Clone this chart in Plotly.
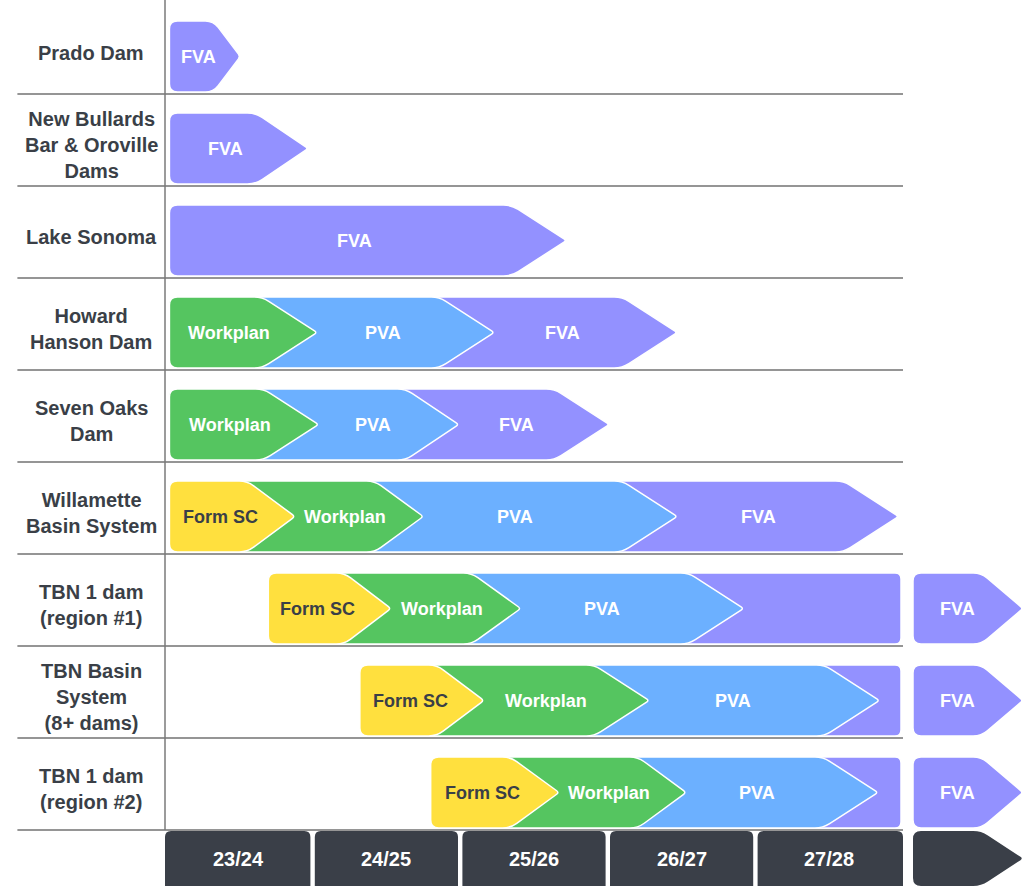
import math
import plotly.graph_objects as go

# ---------------- data ----------------
row_labels = [
    "Prado Dam",
    "New Bullards<br>Bar & Oroville<br>Dams",
    "Lake Sonoma",
    "Howard<br>Hanson Dam",
    "Seven Oaks<br>Dam",
    "Willamette<br>Basin System",
    "TBN 1 dam<br>(region #1)",
    "TBN Basin<br>System<br>(8+ dams)",
    "TBN 1 dam<br>(region #2)",
]
fiscal_years = ["23/24", "24/25", "25/26", "26/27", "27/28"]
phase_names = ["Form SC", "Workplan", "PVA", "FVA"]

LATER = "later"  # continues beyond 27/28

# values in years counted from the start of FY 23/24
row_start = [0.03, 0.03, 0.03, 0.03, 0.03, 0.03, 0.70, 1.32, 1.80]
form_sc_end = [None, None, None, None, None, 0.88, 1.53, 2.16, 2.67]
workplan_end = [None, None, None, 1.03, 1.04, 1.75, 2.41, 3.28, 3.53]
pva_end = [None, None, None, 2.23, 1.99, 3.47, 3.92, 4.84, 4.83]
fva_end = [0.51, 0.97, 2.72, 3.47, 3.01, 4.97, LATER, LATER, LATER]

# ---------------- style ----------------
phase_colors = {"Form SC": "#FFE03E", "Workplan": "#55C560", "PVA": "#6CB0FF", "FVA": "#9391FF"}
phase_text = {"Form SC": "#3A3F47", "Workplan": "white", "PVA": "white", "FVA": "white"}
DARK = "#3A3F48"
GRID = "#959595"
FONT = "Liberation Sans, Arial, sans-serif"

PX_X = 147.6   # pixels per fiscal year
PX_Y = 92.0    # pixels per row
X_RANGE = [-165 / PX_X, (1030 - 165) / PX_X]
Y_RANGE = [(886 - 2) / PX_Y, -2 / PX_Y]
BAR_TOP, BAR_BOT = 19 / PX_Y, 1 - 2 / PX_Y
LATER_W = 110 / PX_X
LATER_GAP = 10 / PX_X
N_FY = len(fiscal_years)


def rounded_path(pts, radii):
    P = [(x * PX_X, y * PX_Y) for x, y in pts]
    n = len(P)
    segs = []
    for i in range(n):
        vx, vy = P[i]
        r = radii[i]

        def toward(ax, ay):
            dx, dy = ax - vx, ay - vy
            d = math.hypot(dx, dy)
            t = min(r, d / 2) / d if d > 0 else 0
            return vx + dx * t, vy + dy * t

        segs.append((toward(*P[i - 1]), (vx, vy), toward(*P[(i + 1) % n])))

    def f(p):
        return f"{p[0] / PX_X:.5f},{p[1] / PX_Y:.5f}"

    path = f"M{f(segs[0][0])} Q{f(segs[0][1])} {f(segs[0][2])}"
    for a, v, b in segs[1:]:
        path += f" L{f(a)} Q{f(v)} {f(b)}"
    return path + " Z"


def shape_path(x0, x1, y0, y1, depth_px, tip=True, r_left=8, r=8, r_tip=3):
    d = depth_px / PX_X
    ym = (y0 + y1) / 2
    if tip:
        pts = [(x0, y0), (x1 - d, y0), (x1, ym), (x1 - d, y1), (x0, y1)]
        radii = [r_left, r, r_tip, r, r_left]
    else:
        pts = [(x0, y0), (x1, y0), (x1, y1), (x0, y1)]
        radii = [r_left, r, r, r_left]
    return rounded_path(pts, radii)


def depth_for(width_years):
    return min(55.0, 0.38 * width_years * PX_X)


def bar_label(x, y, name):
    return dict(x=x, y=y, text=name, showarrow=False, xanchor="center", yanchor="middle",
                font=dict(family=FONT, size=18, color=phase_text[name], weight="bold"))


shapes = []
annotations = []

# grid lines
for r in range(len(row_labels)):
    shapes.append(dict(type="line", x0=-1.0, x1=N_FY, y0=r + 1, y1=r + 1,
                       line=dict(color=GRID, width=2), layer="below"))
shapes.append(dict(type="line", x0=0, x1=0, y0=Y_RANGE[1], y1=len(row_labels),
                   line=dict(color="#7A7A7A", width=1.5), layer="below"))

phase_ends = [form_sc_end, workplan_end, pva_end, fva_end]
for r, label in enumerate(row_labels):
    annotations.append(dict(x=-0.5, y=r + 0.55, text=label, showarrow=False,
                            xanchor="center", yanchor="middle", align="center",
                            font=dict(family=FONT, size=20, color="#3A3F47", weight="bold")))
    y0, y1 = r + BAR_TOP, r + BAR_BOT
    ym = (y0 + y1) / 2
    segs = []
    prev = row_start[r]
    for name, ends in zip(phase_names, phase_ends):
        e = ends[r]
        if e is None:
            continue
        segs.append((name, prev, e))
        if e != LATER:
            prev = e
    drawn = []
    prev_depth = 0.0
    for i, (name, s, e) in enumerate(segs):
        if e == LATER:
            x1 = N_FY - 2 / PX_X
            x0 = s - (prev_depth + 12) / PX_X
            drawn.append((name, shape_path(x0, x1, y0, y1, 0, tip=False, r_left=0, r=6)))
            # separate chevron in the "later" column
            lx0 = N_FY + LATER_GAP
            lx1 = lx0 + LATER_W
            dl = depth_for(LATER_W)
            drawn.append((name, shape_path(lx0, lx1, y0, y1, dl)))
            annotations.append(bar_label((lx0 + lx1) / 2 - 0.25 * dl / PX_X, ym, name))
            continue
        dep = depth_for(e - s)
        if i == 0:
            path = shape_path(s, e, y0, y1, dep)
            shift = 0.25 * dep
        else:
            x0 = s - (prev_depth + 12) / PX_X
            path = shape_path(x0, e, y0, y1, dep, r_left=0)
            shift = max(12.0, 0.17 * (e - s) * PX_X - 8)
        drawn.append((name, path))
        annotations.append(bar_label((s + e) / 2 - shift / PX_X, ym, name))
        prev_depth = dep
    # later phases underneath earlier ones
    for name, path in reversed(drawn):
        shapes.append(dict(type="path", path=path, fillcolor=phase_colors[name],
                           line=dict(color="white", width=1.5), layer="above"))

# timeline at the bottom
ty0 = len(row_labels) + 1 / PX_Y
ty1 = Y_RANGE[0] + 0.1
half_gap = 2.2 / PX_X
for i, fy in enumerate(fiscal_years):
    bx0 = i + (half_gap if i > 0 else 0)
    bx1 = i + 1 - (half_gap if i < N_FY - 1 else 0)
    shapes.append(dict(type="path", path=shape_path(bx0, bx1, ty0, ty1, 0, tip=False, r_left=6, r=6),
                       fillcolor=DARK, line=dict(width=0)))
    annotations.append(dict(x=i + 0.5, y=(ty0 + Y_RANGE[0]) / 2, text=fy, showarrow=False,
                            xanchor="center", yanchor="middle",
                            font=dict(family=FONT, size=20, color="white", weight="bold")))
lx0 = N_FY + LATER_GAP
shapes.append(dict(type="path",
                   path=shape_path(lx0, lx0 + LATER_W, ty0, Y_RANGE[0], depth_for(LATER_W)),
                   fillcolor=DARK, line=dict(width=0)))

fig = go.Figure(go.Scatter(x=[], y=[]))
fig.update_layout(
    width=1030, height=886, margin=dict(l=0, r=0, t=0, b=0),
    paper_bgcolor="white", plot_bgcolor="white", showlegend=False,
    xaxis=dict(visible=False, range=X_RANGE, fixedrange=True),
    yaxis=dict(visible=False, range=Y_RANGE, fixedrange=True),
    shapes=shapes, annotations=annotations,
)
fig.write_html("out.html", config={"displayModeBar": False},
               post_script="document.body.style.margin='0';document.body.style.overflow='hidden';")
